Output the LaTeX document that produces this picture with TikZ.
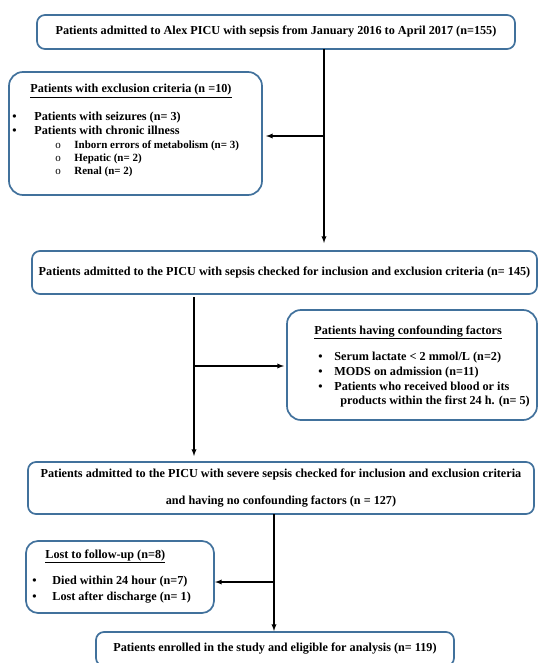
\documentclass[tikz,border=0pt]{standalone}
\usepackage{fontspec}
\setmainfont{Liberation Serif}
\usetikzlibrary{arrows, positioning}
\definecolor{boxblue}{RGB}{65,113,156}
\newcommand{\itemfont}{\fontsize{12.2}{14}\selectfont\bfseries}
\newcommand{\subfont}{\fontsize{11}{13}\selectfont\bfseries}

\begin{document}
\begin{tikzpicture}[x=1pt,y=-1pt,style=thick]
            \useasboundingbox (0,0) rectangle (539,663);
            \tikzstyle{flowbox}=[draw=boxblue,line width=1.7pt,rounded corners=8pt,inner sep=0pt,outer sep=0pt,font=\itemfont,align=center]
            \tikzstyle{listbox}=[flowbox,rounded corners=14pt]
            \tikzstyle{listtext}=[inner sep=0pt,anchor=base west,font=\itemfont]
            \tikzstyle{subtext}=[inner sep=0pt,anchor=base west,font=\subfont]
            \tikzstyle{flowline}=[line width=1.3pt,-latex]

            % main boxes
            \node[flowbox,minimum width=478pt,minimum height=34pt] (admitted) at (276,32) {Patients admitted to Alex PICU with sepsis from January 2016 to April 2017 (n=155)};
            \node[flowbox,minimum width=505pt,minimum height=43pt] (checked) at (284.5,272.5) {Patients admitted to the PICU with sepsis checked for inclusion and exclusion criteria (n= 145)};
            \node[flowbox,minimum width=506pt,minimum height=52pt,font=\fontsize{12.2}{27}\selectfont\bfseries] (severe) at (281,488) {Patients admitted to the PICU with severe sepsis checked for inclusion and exclusion criteria\\and having no confounding factors (n = 127)};
            \node[flowbox,minimum width=358pt,minimum height=34pt] (enrolled) at (275,649) {Patients enrolled in the study and eligible for analysis (n= 119)};

            % side boxes
            \node[listbox,minimum width=253pt,minimum height=123pt] (excluded) at (135.5,133.5) {};
            \node[listbox,minimum width=250pt,minimum height=110pt] (confound) at (412,365) {};
            \node[listbox,rounded corners=12pt,minimum width=188pt,minimum height=72pt] (lost) at (120,577) {};

            % exclusion criteria
            \node[listtext] (excl_head) at (30,93) {\underline{Patients with exclusion criteria (n =10)}};
            \node[listtext] (excl_b1) at (12,121) {\textbullet};
            \node[listtext] (excl_1) at (34,121) {Patients with seizures (n= 3)};
            \node[listtext] (excl_b2) at (12,135) {\textbullet};
            \node[listtext] (excl_2) at (34,135) {Patients with chronic illness};
            \node[subtext,font=\subfont\mdseries] (excl_c1) at (55,149) {o};
            \node[subtext] (excl_21) at (74,149) {Inborn errors of metabolism (n= 3)};
            \node[subtext,font=\subfont\mdseries] (excl_c2) at (55,162) {o};
            \node[subtext] (excl_22) at (74,162) {Hepatic (n= 2)};
            \node[subtext,font=\subfont\mdseries] (excl_c3) at (55,175) {o};
            \node[subtext] (excl_23) at (74,175) {Renal (n= 2)};

            % confounding factors
            \node[listtext] (conf_head) at (314,334) {\underline{Patients having confounding factors}};
            \node[listtext] (conf_b1) at (318,360) {\textbullet};
            \node[listtext] (conf_1) at (334,360) {Serum lactate < 2 mmol/L (n=2)};
            \node[listtext] (conf_b2) at (318,375) {\textbullet};
            \node[listtext] (conf_2) at (334,375) {MODS on admission (n=11)};
            \node[listtext] (conf_b3) at (318,390) {\textbullet};
            \node[listtext] (conf_3) at (334,390) {Patients who received blood or its};
            \node[listtext] (conf_3b) at (340,404) {products within the first 24 h. (n= 5)};

            % lost to follow-up
            \node[listtext] (lost_head) at (45,558) {\underline{Lost to follow-up (n=8)}};
            \node[listtext] (lost_b1) at (32,584) {\textbullet};
            \node[listtext] (lost_1) at (52,584) {Died within 24 hour (n=7)};
            \node[listtext] (lost_b2) at (32,600) {\textbullet};
            \node[listtext] (lost_2) at (52,600) {Lost after discharge (n= 1)};

            % connectors
            \coordinate (split_1) at (324,136);
            \coordinate (split_2) at (194,366);
            \coordinate (split_3) at (274,582);

            \draw [flowline,shorten >=8pt] (admitted.south -| split_1) -- (checked.north -| split_1);
            \draw [flowline,shorten >=4pt] (split_1) -- (excluded.east |- split_1);

            \draw [flowline,shorten <=3pt,shorten >=6pt] (checked.south -| split_2) -- (severe.north -| split_2);
            \draw [flowline,shorten >=3pt] (split_2) -- (confound.west |- split_2);

            \draw [flowline,shorten >=1pt] (severe.south -| split_3) -- (enrolled.north -| split_3);
            \draw [flowline,shorten >=1pt] (split_3) -- (lost.east |- split_3);
\end{tikzpicture}
\end{document}
